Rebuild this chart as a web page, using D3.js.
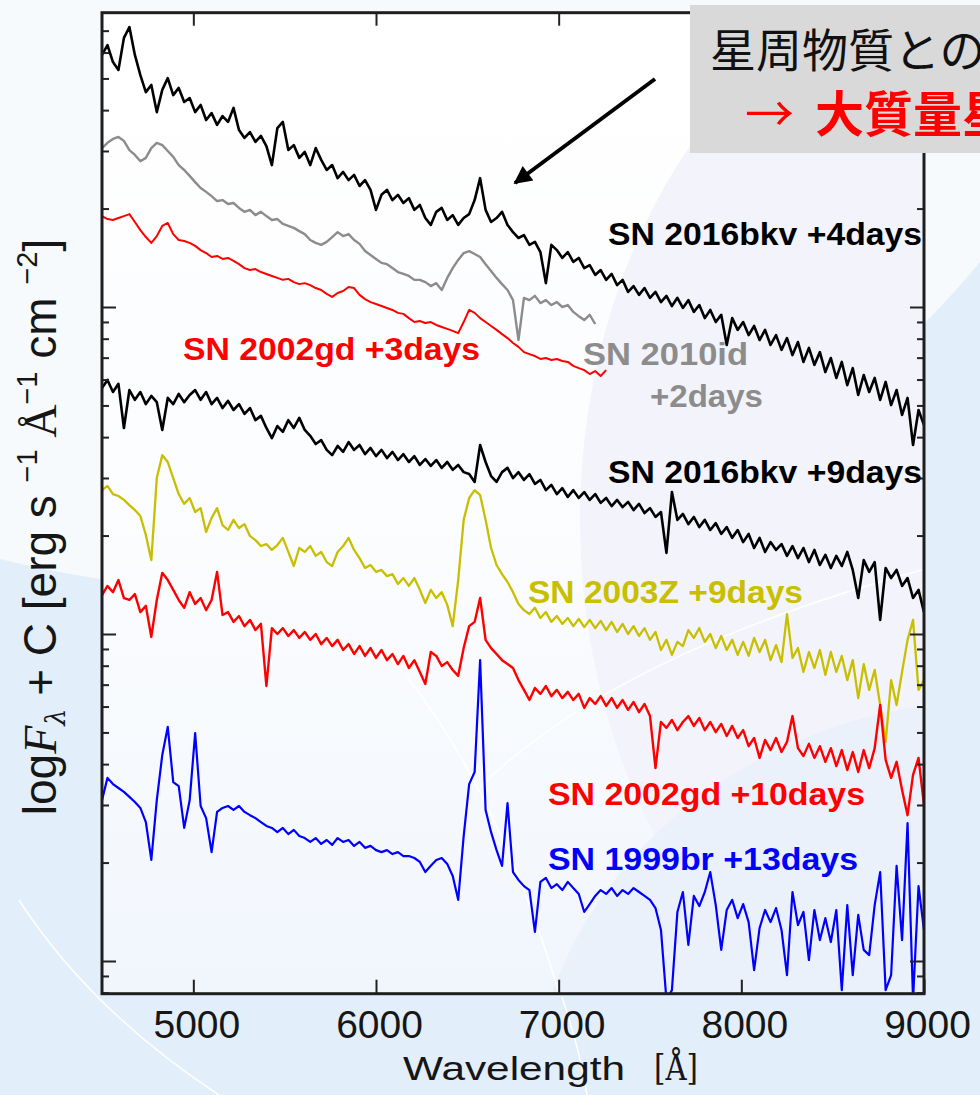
<!DOCTYPE html>
<html>
<head>
<meta charset="utf-8">
<script src="https://cdn.jsdelivr.net/npm/d3@7"></script>
<style>
  html, body { margin: 0; padding: 0; background: #e2eef9; overflow: hidden; }
  svg { display: block; }
</style>
</head>
<body>
<svg id="fig" width="980" height="1095"></svg>
<script>
// Every spectrum is sampled on the same wavelength grid: first sample and spacing (Å)
const waveStart = 4500;
const waveStep = 30;

// log F_lambda + C for each spectrum (arbitrary vertical offsets)
const sn2016bkvDay4 = [2.771,2.801,2.749,2.725,2.823,2.856,2.771,2.709,2.657,2.679,
2.596,2.664,2.700,2.648,2.670,2.627,2.639,2.596,2.618,2.572,
2.593,2.557,2.584,2.566,2.609,2.541,2.517,2.535,2.505,2.523,
2.492,2.434,2.547,2.566,2.480,2.495,2.456,2.474,2.434,2.486,
2.450,2.419,2.434,2.394,2.413,2.388,2.404,2.370,2.388,2.358,
2.297,2.343,2.358,2.327,2.343,2.318,2.333,2.297,2.312,2.272,
2.251,2.291,2.303,2.266,2.281,2.251,2.272,2.284,2.327,2.394,
2.297,2.260,2.272,2.291,2.251,2.229,2.211,2.220,2.190,2.199,
2.168,2.073,2.190,2.174,2.150,2.168,2.138,2.150,2.119,2.128,
2.098,2.113,2.083,2.101,2.067,2.083,2.046,2.064,2.037,2.058,
2.028,2.046,2.015,2.034,2.003,2.028,1.997,2.021,1.985,2.006,
1.966,1.991,1.954,1.976,1.884,1.966,1.930,1.954,1.914,1.942,
1.899,1.930,1.884,1.914,1.869,1.905,1.853,1.893,1.832,1.875,
1.823,1.862,1.801,1.844,1.783,1.832,1.761,1.813,1.731,1.792,
1.740,1.783,1.716,1.771,1.700,1.746,1.670,1.722,1.578,1.685,
1.639];

const sn2010idDay2 = [2.486,2.502,2.514,2.520,2.508,2.480,2.465,2.446,2.456,2.486,
2.502,2.495,2.477,2.459,2.434,2.419,2.401,2.382,2.364,2.352,
2.339,2.324,2.327,2.315,2.318,2.303,2.291,2.297,2.281,2.291,
2.278,2.266,2.269,2.254,2.248,2.242,2.232,2.223,2.205,2.196,
2.190,2.199,2.214,2.229,2.217,2.223,2.205,2.193,2.171,2.159,
2.147,2.135,2.131,2.119,2.107,2.101,2.095,2.083,2.083,2.076,
2.064,2.073,2.052,2.089,2.119,2.144,2.165,2.171,2.162,2.153,
2.131,2.110,2.089,2.070,2.052,2.021,1.899,2.028,2.021,2.034,
2.012,2.021,2.006,2.015,2.000,2.006,1.985,1.972,1.960,1.976,
1.948];

const sn2002gdDay3 = [2.278,2.269,2.266,2.272,2.278,2.284,2.260,2.235,2.214,2.196,
2.217,2.248,2.257,2.223,2.205,2.202,2.196,2.187,2.174,2.165,
2.153,2.156,2.147,2.150,2.141,2.131,2.119,2.113,2.116,2.107,
2.101,2.095,2.089,2.083,2.086,2.076,2.070,2.073,2.067,2.058,
2.052,2.040,2.031,2.043,2.049,2.061,2.058,2.037,2.024,2.015,
2.009,2.003,1.997,1.991,1.982,1.979,1.966,1.954,1.957,1.951,
1.954,1.945,1.939,1.933,1.927,1.920,1.954,1.991,1.982,1.966,
1.954,1.942,1.930,1.917,1.905,1.890,1.878,1.862,1.856,1.850,
1.841,1.844,1.838,1.841,1.835,1.832,1.820,1.813,1.807,1.795,
1.804,1.789,1.807];

const sn2016bkvDay9 = [1.752,1.777,1.740,1.765,1.630,1.746,1.716,1.740,1.703,1.728,
1.709,1.624,1.722,1.703,1.734,1.709,1.731,1.746,1.716,1.740,
1.703,1.722,1.691,1.713,1.685,1.703,1.673,1.691,1.654,1.667,
1.630,1.599,1.636,1.618,1.654,1.630,1.661,1.624,1.606,1.581,
1.593,1.563,1.547,1.575,1.557,1.587,1.563,1.578,1.550,1.569,
1.544,1.563,1.538,1.557,1.532,1.550,1.526,1.544,1.517,1.535,
1.514,1.532,1.508,1.526,1.502,1.517,1.495,1.489,1.465,1.578,
1.526,1.483,1.465,1.495,1.508,1.477,1.495,1.471,1.489,1.459,
1.471,1.440,1.456,1.428,1.446,1.419,1.440,1.416,1.434,1.410,
1.428,1.401,1.416,1.391,1.410,1.388,1.404,1.379,1.398,1.370,
1.385,1.358,1.373,1.248,1.434,1.349,1.367,1.336,1.358,1.327,
1.349,1.318,1.339,1.306,1.327,1.294,1.318,1.281,1.306,1.263,
1.294,1.251,1.281,1.257,1.275,1.239,1.269,1.232,1.263,1.220,
1.257,1.211,1.242,1.202,1.239,1.208,1.251,1.196,1.110,1.226,
1.190,1.220,1.043,1.202,1.171,1.196,1.147,1.171,1.110,1.135,
1.067];

const sn2003zDay9 = [1.440,1.453,1.428,1.422,1.410,1.394,1.379,1.361,1.303,1.226,
1.477,1.547,1.526,1.477,1.428,1.398,1.416,1.373,1.385,1.312,
1.355,1.385,1.333,1.318,1.349,1.324,1.336,1.300,1.287,1.269,
1.275,1.257,1.272,1.294,1.251,1.208,1.263,1.251,1.269,1.239,
1.251,1.220,1.208,1.251,1.269,1.294,1.257,1.232,1.202,1.211,
1.190,1.196,1.177,1.183,1.153,1.171,1.147,1.171,1.135,1.095,
1.135,1.110,1.128,1.089,1.024,1.165,1.349,1.416,1.440,1.425,
1.349,1.263,1.211,1.183,1.159,1.128,1.092,1.073,1.061,1.080,
1.049,1.067,1.037,1.055,1.031,1.049,1.024,1.046,1.021,1.043,
1.018,1.040,1.012,1.037,1.006,1.031,1.000,1.024,0.994,1.018,
0.982,1.006,0.951,0.982,0.936,0.976,0.963,1.012,0.988,1.018,
0.976,1.000,0.957,0.994,0.951,0.982,0.936,0.976,0.933,0.988,
0.945,0.982,0.920,0.966,0.914,1.061,0.927,0.957,0.884,0.945,
0.896,0.951,0.875,0.945,0.884,0.933,0.859,0.920,0.804,0.908,
0.829,0.890,0.783,0.670,0.859,0.783,0.884,0.982,1.043,0.829,
0.859];

const sn2002gdDay10 = [1.119,1.147,1.128,1.165,1.110,1.104,1.122,1.067,1.086,0.991,
1.104,1.187,1.165,1.135,1.104,1.080,1.128,1.092,1.110,1.073,
1.104,1.190,1.058,1.067,1.037,1.055,1.024,1.043,1.012,1.031,
0.841,1.018,1.000,1.018,0.994,1.012,0.988,1.006,0.982,1.000,
0.969,0.988,0.963,0.982,0.951,0.969,0.939,0.963,0.933,0.957,
0.927,0.951,0.920,0.939,0.908,0.933,0.896,0.920,0.884,0.847,
0.945,0.933,0.902,0.914,0.890,0.872,0.957,1.024,1.037,1.110,
0.982,0.957,0.939,0.920,0.908,0.896,0.859,0.829,0.798,0.835,
0.817,0.841,0.810,0.829,0.804,0.823,0.798,0.817,0.774,0.804,
0.786,0.810,0.780,0.804,0.774,0.798,0.768,0.792,0.761,0.786,
0.749,0.590,0.731,0.713,0.737,0.706,0.731,0.749,0.719,0.743,
0.706,0.731,0.700,0.725,0.688,0.719,0.682,0.706,0.657,0.682,
0.621,0.676,0.645,0.682,0.639,0.670,0.749,0.651,0.627,0.664,
0.621,0.657,0.609,0.651,0.596,0.645,0.584,0.639,0.578,0.645,
0.590,0.651,0.783,0.615,0.560,0.609,0.523,0.446,0.569,0.621,
0.477];

const sn1999brDay13 = [0.492,0.560,0.541,0.529,0.517,0.502,0.486,0.468,0.425,0.309,
0.492,0.630,0.716,0.547,0.535,0.407,0.492,0.697,0.474,0.437,
0.333,0.456,0.468,0.474,0.462,0.474,0.456,0.446,0.437,0.425,
0.413,0.407,0.394,0.407,0.388,0.401,0.382,0.376,0.364,0.376,
0.358,0.370,0.355,0.376,0.364,0.370,0.352,0.364,0.346,0.352,
0.339,0.333,0.339,0.327,0.333,0.321,0.321,0.315,0.303,0.272,
0.291,0.309,0.315,0.297,0.260,0.187,0.382,0.541,0.578,0.920,
0.462,0.394,0.339,0.291,0.483,0.272,0.248,0.229,0.217,0.089,
0.242,0.254,0.223,0.235,0.217,0.242,0.223,0.205,0.150,0.174,
0.199,0.217,0.205,0.223,0.199,0.217,0.205,0.223,0.211,0.199,
0.187,0.162,0.095,-0.119,-0.089,0.150,0.211,0.049,0.199,0.168,
0.211,0.272,0.171,0.034,0.156,0.187,0.131,0.174,0.119,-0.028,
0.101,0.156,0.119,0.162,0.095,-0.043,0.211,0.110,0.150,0.003,
0.156,0.064,0.131,0.058,0.156,-0.089,0.171,-0.043,0.141,0.034,
0.018,0.171,0.272,-0.089,-0.043,0.291,0.064,0.422,-0.119,0.229,
0.095];

// Axis ticks
const wavelengthTicks = [5000, 6000, 7000, 8000, 9000];
const decadeTicks = [0, 1, 2];
const decadeBases = [-1, 0, 1, 2];
const minorMultipliers = [2, 3, 4, 5, 6, 7, 8, 9];

// Spectrum labels
const labelTexts = ["SN 2016bkv +4days", "SN 2002gd +3days", "SN 2010id", "+2days",
  "SN 2016bkv +9days", "SN 2003Z +9days", "SN 2002gd +10days", "SN 1999br +13days"];

const svg = d3.select("#fig");
const W = 980, H = 1095;
const plot = { left: 102, right: 924, top: 12.7, bottom: 993.7 };

const x = d3.scaleLinear().domain([4500, 9000]).range([plot.left, plot.right]);
const y = d3.scaleLinear().domain([-0.1, 2.9]).range([plot.bottom, plot.top]);

// ---- slide background ----
const bg = svg.append("g");
bg.append("rect").attr("width", W).attr("height", H).attr("fill", "#e2eef9");
bg.append("ellipse").attr("cx", 250).attr("cy", -200).attr("rx", 900).attr("ry", 790).attr("fill", "#f7fafd");
bg.append("path").attr("d", "M19,900 Q90,1010 219,1095").attr("fill", "none").attr("stroke", "#ffffff").attr("stroke-width", 1.5);
bg.append("path").attr("d", "M562,997 Q580,1050 587,1095").attr("fill", "none").attr("stroke", "#ffffff").attr("stroke-width", 1.5);

const defs = svg.append("defs");
defs.append("clipPath").attr("id", "plotClip")
  .append("rect").attr("x", plot.left).attr("y", plot.top)
  .attr("width", plot.right - plot.left).attr("height", plot.bottom - plot.top);
const grad = defs.append("linearGradient").attr("id", "panelFill").attr("x1", 0).attr("y1", 0).attr("x2", 0).attr("y2", 1);
grad.append("stop").attr("offset", "0%").attr("stop-color", "#ffffff");
grad.append("stop").attr("offset", "55%").attr("stop-color", "#fbfcfe");
grad.append("stop").attr("offset", "100%").attr("stop-color", "#f1f6fc");

const panel = svg.append("g").attr("clip-path", "url(#plotClip)");
panel.append("rect").attr("x", plot.left).attr("y", plot.top)
  .attr("width", plot.right - plot.left).attr("height", plot.bottom - plot.top)
  .attr("fill", "url(#panelFill)");
panel.append("ellipse").attr("cx", 1010).attr("cy", 520).attr("rx", 430).attr("ry", 560).attr("fill", "#f3f3fb");
panel.append("ellipse").attr("cx", 1000).attr("cy", 1120).attr("rx", 470).attr("ry", 420).attr("fill", "#eaf1fb");
panel.append("path").attr("d", "M407,677 Q520,820 587,1095").attr("fill", "none").attr("stroke", "#ffffff").attr("stroke-width", 1.6);
panel.append("path").attr("d", "M480,787 Q620,650 940,565").attr("fill", "none").attr("stroke", "#ffffff").attr("stroke-width", 1.6);

// ---- spectra ----
const spectra = [
  { values: sn2010idDay2,  color: "#8c8c8c", width: 2.4 },
  { values: sn2002gdDay3,  color: "#ff0000", width: 2.0 },
  { values: sn2016bkvDay4, color: "#000000", width: 2.6 },
  { values: sn2016bkvDay9, color: "#000000", width: 2.6 },
  { values: sn2003zDay9,   color: "#c8bf00", width: 2.3 },
  { values: sn2002gdDay10, color: "#ff0000", width: 2.4 },
  { values: sn1999brDay13, color: "#0000ff", width: 2.2 }
];

const line = d3.line().x(d => x(d[0])).y(d => y(d[1]));
const lines = svg.append("g").attr("clip-path", "url(#plotClip)");
spectra.forEach(s => {
  const pts = s.values.map((v, i) => [waveStart + i * waveStep, v]);
  lines.append("path").datum(pts)
    .attr("d", line)
    .attr("fill", "none")
    .attr("stroke", s.color)
    .attr("stroke-width", s.width)
    .attr("stroke-linejoin", "round");
});

// ---- axes (ticks point inward on all four sides) ----
const minorTicks = [];
decadeBases.forEach(n => minorMultipliers.forEach(m => {
  const v = n + Math.log10(m);
  if (v >= -0.1 && v <= 2.9) minorTicks.push(v);
}));

const axes = svg.append("g").style("color", "#222");
function styleAxis(g) {
  g.select(".domain").remove();
  g.selectAll(".tick line").attr("stroke-width", 2);
}
axes.append("g").attr("transform", `translate(${plot.left},0)`)
  .call(d3.axisLeft(y).tickValues(decadeTicks).tickSize(-14).tickFormat("")).call(styleAxis);
axes.append("g").attr("transform", `translate(${plot.left},0)`)
  .call(d3.axisLeft(y).tickValues(minorTicks).tickSize(-7).tickFormat("")).call(styleAxis);
axes.append("g").attr("transform", `translate(${plot.right},0)`)
  .call(d3.axisRight(y).tickValues(decadeTicks).tickSize(-14).tickFormat("")).call(styleAxis);
axes.append("g").attr("transform", `translate(${plot.right},0)`)
  .call(d3.axisRight(y).tickValues(minorTicks).tickSize(-7).tickFormat("")).call(styleAxis);
axes.append("g").attr("transform", `translate(0,${plot.top})`)
  .call(d3.axisTop(x).tickValues(wavelengthTicks).tickSize(-13).tickFormat("")).call(styleAxis);
const xAxis = axes.append("g").attr("transform", `translate(0,${plot.bottom})`)
  .call(d3.axisBottom(x).tickValues(wavelengthTicks).tickSize(-14).tickPadding(17).tickFormat(d3.format("d")))
  .call(styleAxis);
xAxis.selectAll(".tick text")
  .attr("font-family", "'Liberation Sans', Arial, sans-serif")
  .attr("font-size", 39)
  .attr("fill", "#161616")
  .attr("dx", 3);

// frame
svg.append("rect").attr("x", plot.left).attr("y", plot.top)
  .attr("width", plot.right - plot.left).attr("height", plot.bottom - plot.top)
  .attr("fill", "none").attr("stroke", "#1e1e1e").attr("stroke-width", 3);

// x-axis title
const xTitle = svg.append("g").attr("font-family", "'Liberation Sans', Arial, sans-serif").attr("fill", "#161616");
xTitle.append("text").attr("x", 403).attr("y", 1080).attr("font-size", 34)
  .attr("textLength", 222).attr("lengthAdjust", "spacingAndGlyphs").text("Wavelength");
xTitle.append("text").attr("x", 654).attr("y", 1080).attr("font-size", 36)
  .attr("font-family", "'DejaVu Serif', serif")
  .attr("textLength", 44).attr("lengthAdjust", "spacingAndGlyphs").text("[Å]");

// y-axis title
const yTitle = svg.append("text")
  .attr("transform", "translate(56,527) rotate(-90)")
  .attr("text-anchor", "middle")
  .attr("font-family", "'Liberation Sans', Arial, sans-serif")
  .attr("font-size", 46)
  .attr("fill", "#161616");
yTitle.append("tspan").text("log");
yTitle.append("tspan").attr("font-family", "'Liberation Serif', serif").attr("font-style", "italic").text("F");
yTitle.append("tspan").attr("font-family", "'DejaVu Serif', serif").attr("font-style", "italic").attr("font-size", 27).attr("dy", 9).text("λ");
yTitle.append("tspan").attr("dy", -9).text(" + C  [erg s ");
yTitle.append("tspan").attr("font-size", 29).attr("dy", -19).text("−1");
yTitle.append("tspan").attr("dy", 19).attr("font-family", "'Liberation Serif', serif").text(" Å");
yTitle.append("tspan").attr("font-size", 29).attr("dy", -19).text("−1");
yTitle.append("tspan").attr("dy", 19).text(" cm ");
yTitle.append("tspan").attr("font-size", 29).attr("dy", -19).text("−2");
yTitle.append("tspan").attr("dy", 19).text("]");

// ---- spectrum labels ----
const labelColors = ["#000000", "#ff0000", "#8c8c8c", "#8c8c8c", "#000000", "#c8bf00", "#ff0000", "#0000ff"];
const labelLayout = [
  { x: 608, y: 245, w: 314 },
  { x: 183, y: 360, w: 297 },
  { x: 583, y: 365, w: 165 },
  { x: 650, y: 407, w: 113 },
  { x: 608, y: 483, w: 314 },
  { x: 528, y: 603, w: 275 },
  { x: 548, y: 805, w: 317 },
  { x: 548, y: 870, w: 310 }
];
svg.append("g").selectAll("text").data(labelTexts).join("text")
  .attr("x", (d, i) => labelLayout[i].x)
  .attr("y", (d, i) => labelLayout[i].y)
  .attr("textLength", (d, i) => labelLayout[i].w)
  .attr("lengthAdjust", "spacingAndGlyphs")
  .attr("font-family", "'Liberation Sans', Arial, sans-serif")
  .attr("font-weight", "bold")
  .attr("font-size", 32)
  .attr("fill", (d, i) => labelColors[i])
  .text(d => d);

// ---- annotation (the box runs off the right edge of the slide) ----
const note = svg.append("g");
note.append("rect").attr("x", 690).attr("y", 5).attr("width", 320).attr("height", 148).attr("fill", "#d9d9d9");
note.append("text").attr("x", 710).attr("y", 67)
  .attr("font-family", "'Noto Sans CJK JP', sans-serif").attr("font-size", 46).attr("fill", "#111")
  .text("星周物質との");
const note2 = note.append("text").attr("y", 132)
  .attr("font-family", "'Noto Sans CJK JP', sans-serif").attr("font-size", 49)
  .attr("font-weight", "bold").attr("fill", "#ff0000");
note2.append("tspan").attr("x", 745).attr("font-weight", "normal").text("→");
note2.append("tspan").attr("x", 815).text("大質量星");

defs.append("marker").attr("id", "head").attr("markerUnits", "userSpaceOnUse")
  .attr("viewBox", "0 0 10 10").attr("refX", 9).attr("refY", 5)
  .attr("markerWidth", 22).attr("markerHeight", 18).attr("orient", "auto")
  .append("path").attr("d", "M0,0 L10,5 L0,10 Z").attr("fill", "#000");
svg.append("line").attr("x1", 655).attr("y1", 79).attr("x2", 515).attr("y2", 183)
  .attr("stroke", "#000").attr("stroke-width", 4).attr("marker-end", "url(#head)");
</script>
</body>
</html>
